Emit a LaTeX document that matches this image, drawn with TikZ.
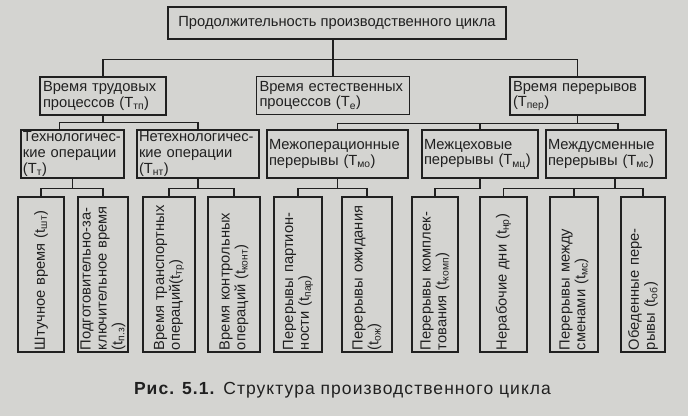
\documentclass[tikz,border=0pt]{standalone}
\usepackage{fontspec}
\setmainfont{Liberation Sans}
\hyphenpenalty=10000
\exhyphenpenalty=10000
\definecolor{paper}{RGB}{212,212,209}
\definecolor{ink}{RGB}{32,32,32}
\newcommand{\Tsub}[1]{Т\textsubscript{#1}}
\newcommand{\tsub}[1]{t\textsubscript{#1}}

\begin{document}
\begin{tikzpicture}[x=1pt, y=-1pt, font=\fontsize{14.7}{15.8}\selectfont, text=ink, root/.style={draw=ink, line width=1.4pt, minimum width=338, minimum height=32, inner sep=0pt}, grp/.style={draw=ink, line width=1.4pt, text width=#1, minimum height=38, inner xsep=3pt, inner ysep=0pt, align=left}, sub/.style={draw=ink, line width=1.4pt, text width=#1, minimum height=48, inner xsep=2pt, inner ysep=0pt, align=left}, leaf/.style={draw=ink, line width=1.4pt, rotate=90, minimum width=155, minimum height=#1, text width=151, inner xsep=2pt, inner ysep=0pt, align=left}, e/.style={draw=ink, line width=1.4pt}]
                \fill[paper] (0,0) rectangle (688,416);
                % nodes
                \node[root] (top) at (337,23) {Продолжительность производственного цикла};
                \node[grp=120] (trud) at (103,96) {Время трудовых\\процессов (\Tsub{тп})};
                \node[grp=147] (est) at (333,95.5) {Время естественных\\процессов (\Tsub{е})};
                \node[grp=129] (per) at (577.5,96) {Время перерывов\\(\Tsub{пер})};
                \node[sub=99] (tech) at (72.5,154) {Технологичес-\\кие операции\\(\Tsub{т})};
                \node[sub=118] (netech) at (198,154) {Нетехнологичес-\\кие операции\\(\Tsub{нт})};
                \node[sub=137] (mop) at (337.5,154) {Межоперационные\\перерывы (\Tsub{мо})};
                \node[sub=112] (mceh) at (480,154) {Межцеховые\\перерывы (\Tsub{мц})};
                \node[sub=116] (msm) at (606,154) {Междусменные\\перерывы (\Tsub{мс})};
                \node[leaf=46] (sht) at (41,274.5) {Штучное время (\tsub{шт})};
                \node[leaf=50] (pz) at (103,274.5) {Подготовительно-за-\\ключительное время\\(\tsub{п.з})};
                \node[leaf=52] (tr) at (169,274.5) {Время транспортных\\операций(\tsub{тр})};
                \node[leaf=52] (kont) at (234,274.5) {Время контрольных\\операций (\tsub{конт})};
                \node[leaf=48] (par) at (298,274.5) {Перерывы партион-\\ности (\tsub{пар})};
                \node[leaf=50] (ozh) at (367,274.5) {Перерывы ожидания\\(\tsub{ож})};
                \node[leaf=46] (komp) at (435,274.5) {Перерывы комплек-\\тования (\tsub{комп})};
                \node[leaf=47] (nr) at (503.5,274.5) {Нерабочие дни (\tsub{нр})};
                \node[leaf=48] (ms) at (574,274.5) {Перерывы между\\сменами (\tsub{мс})};
                \node[leaf=44] (ob) at (643,274.5) {Обеденные пере-\\рывы (\tsub{об})};
                \node[font=\fontsize{17.5}{19}\selectfont\addfontfeature{LetterSpace=6}] (cap) at (342.5,390) {\textbf{Рис. 5.1.} Структура производственного цикла};
                % edges
                \draw[e] (trud.north) -- ++(0,-17) -| (per.north);
                \draw[e] (top.south -| est.north) -- (est.north);
                \draw[e] (trud.south) -- ++(0,7) coordinate (tb) -| ([xshift=-13]tech.north);
                \draw[e] (tb) -| (netech.north);
                \draw[e] (per.south) -- ++(0,8) coordinate (pb) -| (mop.north);
                \draw[e] (pb) -| (mceh.north);
                \draw[e] (pb) -| ([xshift=12]msm.north);
                \draw[e] (tech.south) -- ++(0,10) coordinate (tcb) -| (sht.east);
                \draw[e] (tcb) -| (pz.east);
                \draw[e] (netech.south) -- ++(0,10) coordinate (nb) -| (tr.east);
                \draw[e] (nb) -| (kont.east);
                \draw[e] (mop.south) -- ++(0,10) coordinate (mb) -| (par.east);
                \draw[e] (mb) -| (ozh.east);
                \draw[e] (mceh.south) -- ++(0,10) -| (komp.east);
                \draw[e] ([xshift=9]msm.south) -- ++(0,10) coordinate (sb) -| (nr.east);
                \draw[e] (sb) -| (ms.east);
                \draw[e] (sb) -| (ob.east);
            \end{tikzpicture}
\end{document}
